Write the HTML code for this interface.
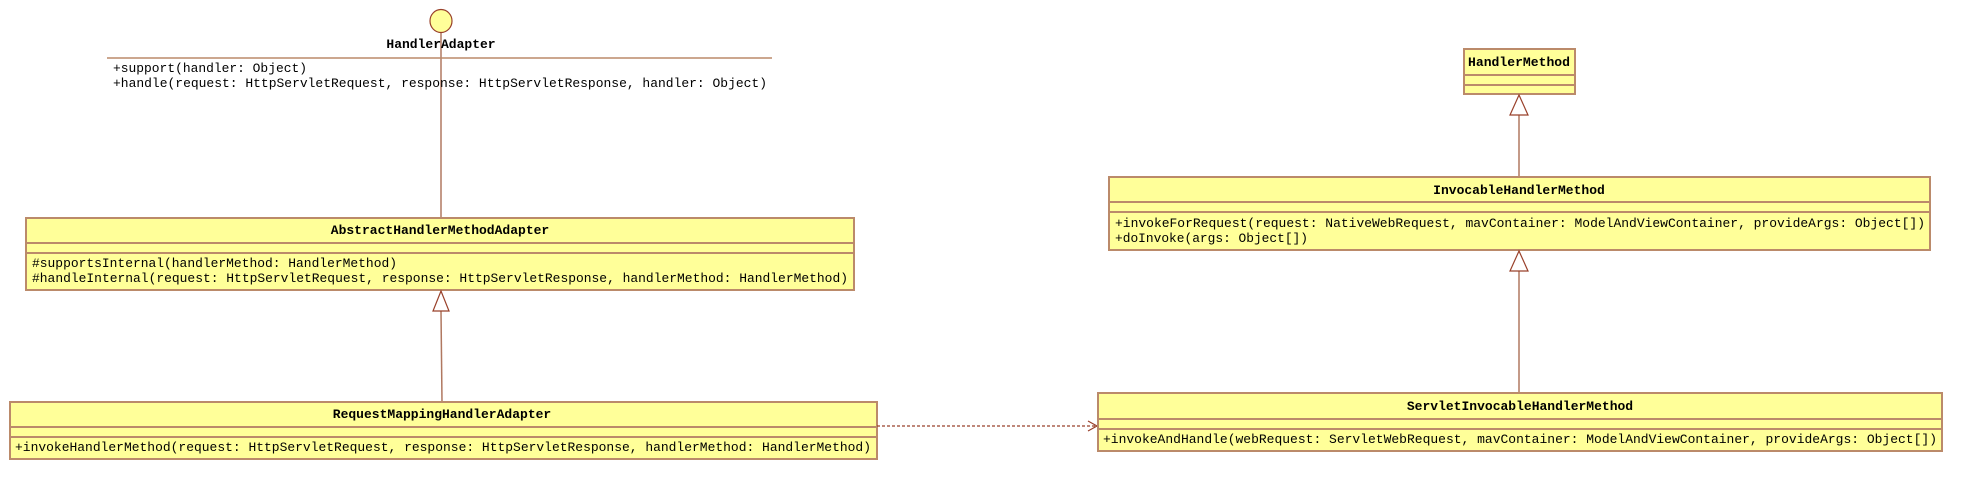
<!DOCTYPE html>
<html><head><meta charset="utf-8"><style>
html,body{margin:0;padding:0;background:#fff;width:1981px;height:499px;overflow:hidden}
text{font-family:"Liberation Mono","DejaVu Sans Mono",monospace;font-size:13px;fill:#000}
.b{font-weight:bold}
.box{fill:#ffff99;stroke:#bb8a6a;stroke-width:2}
.sep{stroke:#bb8a6a;stroke-width:2}
.ln{stroke:#b07860;stroke-width:1.5;fill:none}
.tri{fill:#fff;stroke:#99402a;stroke-width:1.2}
</style></head><body>
<svg width="1981" height="499" xmlns="http://www.w3.org/2000/svg">
<line class="ln" x1="441" y1="33" x2="441" y2="218"/>
<ellipse cx="441" cy="21" rx="11" ry="11.5" fill="#ffff99" stroke="#99402a" stroke-width="1.2"/>
<text class="b" x="441" y="48" text-anchor="middle">HandlerAdapter</text>
<line x1="107" y1="58" x2="772" y2="58" stroke="#bb8a6a" stroke-width="1.5"/>
<text x="113" y="72" textLength="194" lengthAdjust="spacingAndGlyphs">+support(handler: Object)</text>
<text x="113" y="87" textLength="654" lengthAdjust="spacingAndGlyphs">+handle(request: HttpServletRequest, response: HttpServletResponse, handler: Object)</text>

<rect class="box" x="26" y="218" width="828" height="72"/>
<line class="sep" x1="26" y1="243" x2="854" y2="243"/>
<line class="sep" x1="26" y1="253" x2="854" y2="253"/>
<text class="b" x="440" y="234" text-anchor="middle">AbstractHandlerMethodAdapter</text>
<text x="32" y="267" textLength="365" lengthAdjust="spacingAndGlyphs">#supportsInternal(handlerMethod: HandlerMethod)</text>
<text x="32" y="282" textLength="816" lengthAdjust="spacingAndGlyphs">#handleInternal(request: HttpServletRequest, response: HttpServletResponse, handlerMethod: HandlerMethod)</text>

<line class="ln" x1="441" y1="311" x2="442" y2="402"/>
<polygon class="tri" points="441,291 433,311 449,311"/>

<rect class="box" x="10" y="402" width="867" height="57"/>
<line class="sep" x1="10" y1="427" x2="877" y2="427"/>
<line class="sep" x1="10" y1="437" x2="877" y2="437"/>
<text class="b" x="442" y="418" text-anchor="middle">RequestMappingHandlerAdapter</text>
<text x="15" y="451" textLength="856" lengthAdjust="spacingAndGlyphs">+invokeHandlerMethod(request: HttpServletRequest, response: HttpServletResponse, handlerMethod: HandlerMethod)</text>

<line x1="877" y1="426" x2="1097" y2="426" stroke="#99402a" stroke-width="1.3" stroke-dasharray="3,2"/>
<polyline points="1088,421 1097,426 1088,431" fill="none" stroke="#99402a" stroke-width="1.2"/>

<rect class="box" x="1464" y="49" width="111" height="45"/>
<line class="sep" x1="1464" y1="75" x2="1575" y2="75"/>
<line class="sep" x1="1464" y1="85" x2="1575" y2="85"/>
<text class="b" x="1468" y="66" textLength="102" lengthAdjust="spacingAndGlyphs">HandlerMethod</text>

<line class="ln" x1="1519" y1="115" x2="1519" y2="177"/>
<polygon class="tri" points="1519,95 1510,115 1528,115"/>

<rect class="box" x="1109" y="177" width="821" height="73"/>
<line class="sep" x1="1109" y1="202" x2="1930" y2="202"/>
<line class="sep" x1="1109" y1="212" x2="1930" y2="212"/>
<text class="b" x="1519" y="194" text-anchor="middle">InvocableHandlerMethod</text>
<text x="1115" y="227" textLength="810" lengthAdjust="spacingAndGlyphs">+invokeForRequest(request: NativeWebRequest, mavContainer: ModelAndViewContainer, provideArgs: Object[])</text>
<text x="1115" y="242" textLength="193" lengthAdjust="spacingAndGlyphs">+doInvoke(args: Object[])</text>

<line class="ln" x1="1519" y1="271" x2="1519" y2="393"/>
<polygon class="tri" points="1519,251 1510,271 1528,271"/>

<rect class="box" x="1098" y="393" width="844" height="58"/>
<line class="sep" x1="1098" y1="419" x2="1942" y2="419"/>
<line class="sep" x1="1098" y1="429" x2="1942" y2="429"/>
<text class="b" x="1520" y="410" text-anchor="middle">ServletInvocableHandlerMethod</text>
<text x="1103" y="443" textLength="834" lengthAdjust="spacingAndGlyphs">+invokeAndHandle(webRequest: ServletWebRequest, mavContainer: ModelAndViewContainer, provideArgs: Object[])</text>
</svg>
</body></html>
